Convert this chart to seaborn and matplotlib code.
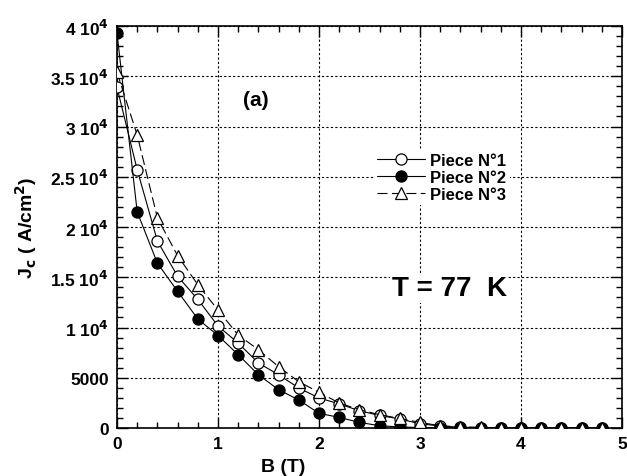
import numpy as np
import pandas as pd
import matplotlib
matplotlib.use("Agg")
import matplotlib.pyplot as plt
import seaborn as sns
from matplotlib.ticker import MultipleLocator, FixedLocator

# field values (T) and critical current densities (A/cm2)
b_field = [0.0, 0.2, 0.4, 0.6, 0.8, 1.0, 1.2, 1.4, 1.6, 1.8, 2.0, 2.2, 2.4,
           2.6, 2.8, 3.0, 3.2, 3.4, 3.6, 3.8, 4.0, 4.2, 4.4, 4.6, 4.8]
jc_piece1 = [33900, 25700, 18600, 15100, 12800, 10150, 8450, 6470, 5300, 3980,
             2990, 2400, 1720, 1250, 900, 420, 200, 80, 40, 20, 10, 5, 0, 0, 0]
jc_piece2 = [39300, 21500, 16400, 13600, 10850, 9200, 7300, 5300, 3810, 2790,
             1460, 1060, 560, 230, 100, 50, 20, 10, 5, 0, 0, 0, 0, 0, 0]
jc_piece3 = [35400, 29150, 20900, 17150, 14260, 11740, 9250, 7790, 6100, 4610,
             3550, 2490, 1820, 1320, 960, 560, 220, 110, 60, 30, 20, 10, 5, 0, 0]

y_ticks = [0, 5000, 10000, 15000, 20000, 25000, 30000, 35000, 40000]
y_tick_labels = ["0", "5000", r"1 10$^4$", r"1.5 10$^4$", r"2 10$^4$",
                 r"2.5 10$^4$", r"3 10$^4$", r"3.5 10$^4$", r"4 10$^4$"]
x_ticks = [0, 1, 2, 3, 4, 5]

sns.set_style("ticks")
plt.rcParams['font.family'] = ['Liberation Sans', 'DejaVu Sans']
plt.rcParams['mathtext.default'] = 'bf'
plt.rcParams['font.weight'] = 'bold'
plt.rcParams['text.color'] = 'black'
plt.rcParams['axes.labelcolor'] = 'black'
plt.rcParams['xtick.color'] = 'black'
plt.rcParams['ytick.color'] = 'black'

fig = plt.figure(figsize=(6.27, 4.77), dpi=100)
ax = fig.add_axes([0.1866, 0.1006, 0.8054, 0.8428])

sns.lineplot(x=b_field, y=jc_piece1, ax=ax, color="black", lw=0.8,
             marker="o", markersize=8, markerfacecolor="white",
             markeredgecolor="black", markeredgewidth=0.9,
             label="Piece N°1", zorder=3)
sns.lineplot(x=b_field, y=jc_piece2, ax=ax, color="black", lw=0.8,
             marker="o", markersize=8, markerfacecolor="black",
             markeredgecolor="black", markeredgewidth=0.9,
             label="Piece N°2", zorder=4)
sns.lineplot(x=b_field, y=jc_piece3, ax=ax, color="black", lw=0.8,
             dashes=(9, 4), marker="^", markersize=8, markerfacecolor="white",
             markeredgecolor="black", markeredgewidth=0.9,
             label="Piece N°3", zorder=5)

ax.set_xlim(0, 5)
ax.set_ylim(0, 40000)
ax.xaxis.set_major_locator(FixedLocator(x_ticks))
ax.xaxis.set_minor_locator(MultipleLocator(0.2))
ax.set_yticks(y_ticks)
ax.set_yticklabels(y_tick_labels)
ax.yaxis.set_minor_locator(MultipleLocator(1000))

ax.tick_params(which="both", direction="in", top=True, right=True,
               labelsize=12.5, width=1, colors="black", pad=6)
ax.tick_params(which="major", length=8)
ax.tick_params(which="minor", length=4)
for lab in ax.get_xticklabels() + ax.get_yticklabels():
    lab.set_fontweight("bold")
for s in ax.spines.values():
    s.set_linewidth(1.2)
    s.set_color("black")

ax.grid(True, which="major", color="black", linestyle=(0, (2, 2)), lw=0.8)

ax.set_xlabel("B (T)", fontsize=14, fontweight="bold")
ax.xaxis.set_label_coords(0.33, -0.075)
ax.set_ylabel(r"J$_{\mathbf{c}}$ ( A/cm$^{\mathbf{2}}$)", fontsize=14,
              fontweight="bold", labelpad=8)

ax.text(1.37, 32700, "(a)", fontsize=15, fontweight="bold", ha="center",
        va="center")
ax.text(3.29, 13900, "T = 77  K", fontsize=20, fontweight="bold", ha="center",
        va="center", zorder=6,
        bbox=dict(facecolor="white", edgecolor="none", pad=1))

leg = ax.legend(loc="upper left", bbox_to_anchor=(0.508, 0.693), frameon=True,
                handlelength=2.9, handletextpad=0.3, labelspacing=0.12,
                borderpad=0.2, borderaxespad=0,
                prop={"weight": "bold", "size": 12})
leg.get_frame().set_facecolor("white")
leg.get_frame().set_edgecolor("none")
leg.get_frame().set_alpha(1)
leg.get_frame().set_boxstyle("square", pad=0)

fig.savefig("out.png", dpi=100)
